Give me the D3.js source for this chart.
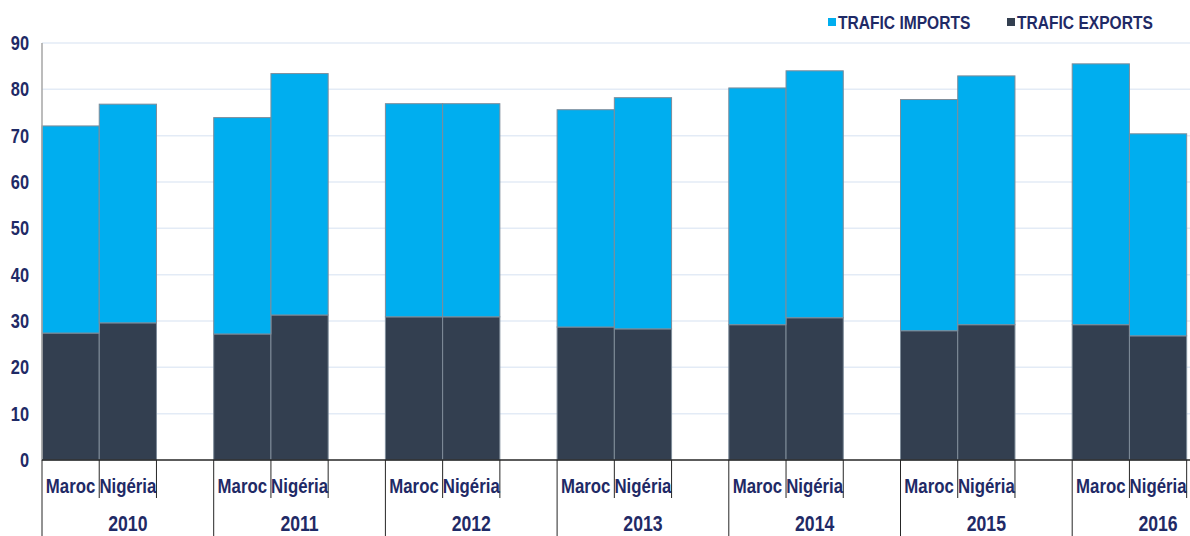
<!DOCTYPE html>
<html>
<head>
<meta charset="utf-8">
<script src="https://cdn.jsdelivr.net/npm/d3@7"></script>
<style>
  body { margin: 0; background: #fff; }
  svg text { font-family: "Liberation Sans", Arial, sans-serif; font-weight: bold; fill: #1f2a66; }
</style>
</head>
<body>
<svg id="chart" width="1190" height="536"></svg>
<script>
const years = ["2010", "2011", "2012", "2013", "2014", "2015", "2016"];
const countries = ["Maroc", "Nigéria"];
// totals (top of stacked bar) and exports, per year, [Maroc, Nigéria]
const totals = [[72.1, 76.8], [73.9, 83.4], [76.9, 76.9], [75.6, 78.2], [80.3, 84.0], [77.8, 82.9], [85.5, 70.4]];
const exportsVals = [[27.4, 29.6], [27.2, 31.3], [30.9, 30.9], [28.7, 28.3], [29.2, 30.7], [27.9, 29.2], [29.2, 26.8]];
const yTicks = [0, 10, 20, 30, 40, 50, 60, 70, 80, 90];
const seriesNames = ["TRAFIC IMPORTS", "TRAFIC EXPORTS"];
const colors = ["#00aeef", "#333f50"];

const rows = [];
years.forEach((yr, i) => {
    countries.forEach((c, j) => {
        rows.push({ year: yr, country: c, exports: exportsVals[i][j], imports: totals[i][j] - exportsVals[i][j] });
    });
});

const svg = d3.select("#chart");
const plotLeft = 42, plotTop = 43, plotBottom = 460;
const groupW = 171.7;
const narrow = 0.82; // squeeze Arial into something like Arial Narrow

function label(parent, x, y, txt, size, anchor) {
    return parent.append("text")
        .attr("transform", `translate(${x},${y}) scale(${narrow},1)`)
        .attr("dy", "0.35em")
        .attr("text-anchor", anchor)
        .attr("font-size", size)
        .text(txt);
}

const x0 = d3.scaleBand().domain(years).range([plotLeft, plotLeft + groupW * years.length]).padding(0);
// third slot in each group is empty, as in the original spreadsheet
const x1 = d3.scaleBand().domain([...countries, ""]).range([0, x0.bandwidth()]).padding(0);
const y = d3.scaleLinear().domain([0, 90]).range([plotBottom, plotTop]);

// grid
svg.append("g").selectAll("line")
    .data(yTicks.filter(d => d > 0))
    .enter().append("line")
    .attr("x1", plotLeft).attr("x2", 1190)
    .attr("y1", d => y(d)).attr("y2", d => y(d))
    .attr("stroke", "#e3ebf6").attr("stroke-width", 1.5);

// y labels
const yG = svg.append("g");
yTicks.forEach(t => label(yG, 29, y(t), t, 20, "end"));

const stack = d3.stack().keys(["exports", "imports"]);
const layers = stack(rows);
const layerColor = { exports: colors[1], imports: colors[0] };

svg.append("g").selectAll("g")
    .data(layers)
    .enter().append("g")
    .attr("fill", d => layerColor[d.key])
    .selectAll("rect")
    .data(d => d)
    .enter().append("rect")
    .attr("x", d => x0(d.data.year) + x1(d.data.country))
    .attr("width", x1.bandwidth())
    .attr("y", d => y(d[1]))
    .attr("height", d => y(d[0]) - y(d[1]))
    .attr("stroke", "#7f8c99").attr("stroke-width", 1);

// axes lines
svg.append("line").attr("x1", plotLeft).attr("x2", plotLeft).attr("y1", plotTop).attr("y2", plotBottom)
    .attr("stroke", "#a6a6a6").attr("stroke-width", 1.5);
svg.append("line").attr("x1", plotLeft).attr("x2", 1190).attr("y1", plotBottom).attr("y2", plotBottom)
    .attr("stroke", "#262626").attr("stroke-width", 1.5);

// category axis: long separators between groups, short ones between countries
const axisG = svg.append("g");
years.forEach(yr => {
    const gx = x0(yr);
    axisG.append("line").attr("x1", gx).attr("x2", gx).attr("y1", plotBottom).attr("y2", 536)
        .attr("stroke", "#262626").attr("stroke-width", 1);
    [1, 2].forEach(k => {
        const sx = gx + x1.bandwidth() * k;
        axisG.append("line").attr("x1", sx).attr("x2", sx).attr("y1", plotBottom).attr("y2", 498)
            .attr("stroke", "#262626").attr("stroke-width", 1);
    });
    countries.forEach(c => {
        label(axisG, gx + x1(c) + x1.bandwidth() / 2, 486, c, 20.5, "middle");
    });
    label(axisG, gx + x0.bandwidth() / 2, 523, yr, 21.5, "middle");
});

// legend
const legendX = [828, 1007];
seriesNames.forEach((name, i) => {
    svg.append("rect").attr("x", legendX[i]).attr("y", 18).attr("width", 8).attr("height", 8)
        .attr("fill", colors[i]);
    label(svg, legendX[i] + 10, 22, name, 19, "start");
});
</script>
</body>
</html>
